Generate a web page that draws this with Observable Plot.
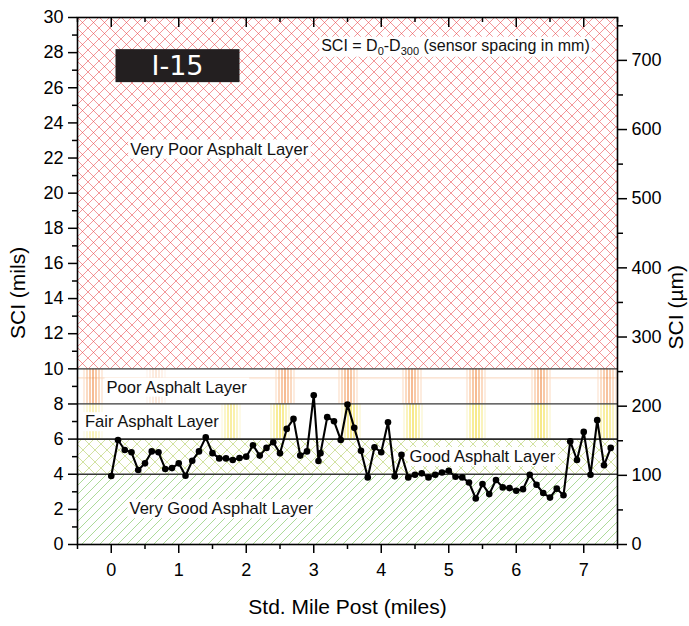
<!DOCTYPE html>
<html>
<head>
<meta charset="utf-8">
<script src="https://cdn.jsdelivr.net/npm/d3@7"></script>
<script src="https://cdn.jsdelivr.net/npm/@observablehq/plot@0.6"></script>
<style>
  body { margin: 0; background: #fff; }
  #chart { width: 689px; height: 626px; }
</style>
</head>
<body>
<div id="chart"></div>
<script>
// ---------------- data ----------------
const milePost = [0.0,0.1,0.2,0.3,0.4,0.5,0.6,0.7,0.8,0.9,
                  1.0,1.1,1.2,1.3,1.4,1.5,1.6,1.7,1.8,1.9,
                  2.0,2.1,2.2,2.3,2.4,2.5,2.6,2.7,2.8,2.9,
                  3.0,3.07,3.1,3.2,3.3,3.4,3.5,3.6,3.7,3.8,
                  3.9,4.0,4.1,4.2,4.3,4.4,4.5,4.6,4.7,4.8,
                  4.9,5.0,5.1,5.2,5.3,5.4,5.5,5.6,5.7,5.8,
                  5.9,6.0,6.1,6.2,6.3,6.4,6.5,6.6,6.7,6.8,
                  6.9,7.0,7.1,7.2,7.3,7.4];
const sciMils = [3.9,5.95,5.38,5.25,4.24,4.62,5.30,5.25,4.30,4.35,
                 4.62,3.91,4.77,5.30,6.10,5.20,4.90,4.90,4.81,4.92,
                 5.0,5.65,5.06,5.50,5.82,5.19,6.58,7.15,5.06,5.30,
                 8.5,4.75,5.2,7.25,7.02,5.95,7.97,6.64,5.34,3.82,
                 5.53,5.25,6.96,3.88,5.11,3.82,3.97,4.05,3.82,3.97,
                 4.10,4.20,3.86,3.82,3.53,2.62,3.44,2.87,3.67,3.25,
                 3.21,3.06,3.15,3.97,3.40,2.93,2.67,3.18,2.80,5.87,
                 4.81,6.41,3.97,7.08,4.51,5.50];

const bandNames  = ["Very Good Asphalt Layer","Good Asphalt Layer","Fair Asphalt Layer","Poor Asphalt Layer","Very Poor Asphalt Layer"];
const bandLower  = [0, 4, 6, 8, 10];
const bandUpper  = [4, 6, 8, 10, 30];
const bandLabelX = [0.27, 4.42, -0.39, -0.07, 0.28];   // miles
const bandLabelY = [2.03, 5.0, 6.98, 8.95, 22.5];      // mils
const boundaries = [4, 8, 10];
const thickBoundary = [6];

const xTicks  = [0,1,2,3,4,5,6,7];
const xMinor  = [-0.5,0.5,1.5,2.5,3.5,4.5,5.5,6.5,7.5];
const yTicks  = [0,2,4,6,8,10,12,14,16,18,20,22,24,26,28,30];
const yMinor  = [1,3,5,7,9,11,13,15,17,19,21,23,25,27,29];
const umTicks = [0,100,200,300,400,500,600,700];
const umMinor = [50,150,250,350,450,550,650,750];
const MICRONS_PER_MIL = 25.4;

const routeName = "I-15";
const sciNote = "SCI = D0-D300 (sensor spacing in mm)";
const noteX = 3.11, noteY = 28.4;

// ---------------- layout / style ----------------
const W = 689, H = 626;
const mTop = 17, mRight = 72, mBottom = 82, mLeft = 77;
const frameH = H - mTop - mBottom;

const patternOf = {
  "Very Good Asphalt Layer": "hVeryGood",
  "Good Asphalt Layer": "hGood",
  "Fair Asphalt Layer": "hFair",
  "Poor Asphalt Layer": "hPoor",
  "Very Poor Asphalt Layer": "hVeryPoor"
};

const series = milePost.map((m, i) => ({mile: m, sci: sciMils[i]}));
const bands = bandNames.map((name, i) => ({name, lo: bandLower[i], hi: bandUpper[i], lx: bandLabelX[i], ly: bandLabelY[i]}));
const toMils = v => v / MICRONS_PER_MIL;

const font = "Liberation Sans, Arial, Helvetica, sans-serif";

const chart = Plot.plot({
  width: W, height: H,
  marginTop: mTop, marginRight: mRight, marginBottom: mBottom, marginLeft: mLeft,
  x: {domain: [-0.5, 7.5], axis: null},
  y: {domain: [0, 30], axis: null},
  style: {fontFamily: font, fontSize: "16px", color: "black", background: "white", overflow: "visible"},
  marks: [
    ...bands.map(b => Plot.rectY([b], {y1: "lo", y2: "hi", fill: `url(#${patternOf[b.name]})`})),
    Plot.ruleY(boundaries, {stroke: "#383838", strokeWidth: 1.3}),
    Plot.ruleY(thickBoundary, {stroke: "#2a2a2a", strokeWidth: 1.9}),
    Plot.text(bands, {x: "lx", y: "ly", text: "name", textAnchor: "start", fontSize: 16.6, fill: "#111"}),
    Plot.text([sciNote], {x: [noteX], y: [noteY], text: d => d, textAnchor: "start", fontSize: 16, fill: "#111"}),
    Plot.text([routeName], {frameAnchor: "top-left", dx: 100, dy: 49, textAnchor: "middle", lineAnchor: "middle",
      fontSize: 27, fill: "white", fontFamily: "DejaVu Sans, sans-serif", letterSpacing: 1.5}),
    Plot.line(series, {x: "mile", y: "sci", stroke: "black", strokeWidth: 2.1}),
    Plot.dot(series, {x: "mile", y: "sci", r: 3.3, fill: "black", stroke: "none"}),
    // axes
    Plot.axisX(xTicks, {anchor: "bottom", tickSize: 9, tickPadding: 10, fontSize: 18, strokeWidth: 1.5, label: null}),
    Plot.axisX(xMinor, {anchor: "bottom", tickSize: 5, text: null, strokeWidth: 1.5, label: null}),
    Plot.tickX(xTicks, {x: d => d, insetBottom: frameH - 10, stroke: "black", strokeWidth: 1.5}),
    Plot.tickX(xMinor, {x: d => d, insetBottom: frameH - 5, stroke: "black", strokeWidth: 1.5}),
    Plot.axisY(yTicks, {anchor: "left", tickSize: 9, tickPadding: 5, fontSize: 18, strokeWidth: 1.5, label: null}),
    Plot.axisY(yMinor, {anchor: "left", tickSize: 5, text: null, strokeWidth: 1.5, label: null}),
    Plot.axisY(umTicks.map(toMils), {anchor: "right", tickSize: 9, tickPadding: 5, fontSize: 18, strokeWidth: 1.5,
      tickFormat: d => Math.round(d * MICRONS_PER_MIL), label: null}),
    Plot.axisY(umMinor.map(toMils), {anchor: "right", tickSize: 5, text: null, strokeWidth: 1.5, label: null}),
    Plot.frame({stroke: "black", strokeWidth: 1.6}),
    // axis titles
    Plot.text(["SCI (mils)"], {frameAnchor: "left", rotate: -90, dx: -59, dy: 58, fontSize: 21, lineAnchor: "middle"}),
    Plot.text(["SCI (\u00b5m)"], {frameAnchor: "right", rotate: -90, dx: 59, dy: -16, fontSize: 21, lineAnchor: "middle"}),
    Plot.text(["Std. Mile Post (miles)"], {frameAnchor: "bottom", dy: 63, fontSize: 21, lineAnchor: "middle"})
  ]
});

document.getElementById("chart").append(chart);

// ---------------- hatch patterns ----------------
const svg = d3.select(chart);
const defs = svg.insert("defs", ":first-child");
function pattern(id, w, h, x, y) {
  const p = defs.append("pattern").attr("id", id).attr("patternUnits", "userSpaceOnUse")
    .attr("width", w).attr("height", h).attr("x", x).attr("y", y);
  p.append("rect").attr("width", w).attr("height", h).attr("fill", "white");
  return p;
}
// very poor: red cross-hatch
{
  const s = 11;
  const p = pattern("hVeryPoor", s, s, mLeft, mTop);
  p.append("path").attr("d", `M0,0L${s},${s}M0,${s}L${s},0`)
    .attr("stroke", "#e8383c").attr("stroke-width", 0.9).attr("stroke-opacity", 0.58).attr("fill", "none");
}
// good: yellow-green cross-hatch
{
  const s = 12;
  const p = pattern("hGood", s, s, mLeft, 0);
  p.append("path").attr("d", `M0,0L${s},${s}M0,${s}L${s},0`)
    .attr("stroke", "#b4cf62").attr("stroke-width", 0.8).attr("stroke-opacity", 0.75).attr("fill", "none");
}
// very good: green diagonal lines
{
  const s = 9;
  const p = pattern("hVeryGood", s, s, mLeft, 0);
  p.append("path").attr("d", `M0,${s}L${s},0M-1,1L1,-1M${s-1},${s+1}L${s+1},${s-1}`)
    .attr("stroke", "#86c866").attr("stroke-width", 0.8).attr("stroke-opacity", 0.85).attr("fill", "none");
}
// poor / fair: clusters of vertical lines (moire of a fine grid)
const y10 = 368.5, y8 = 403.6, bandH = 35.1;
const poorClusters = [[84,1],[147,0.35],[276,1],[339,1],[403,1],[467,1],[532,1],[598,0.9]];
const fairClusters = [[84,0.6],[222,0.8],[271,1],[342,1],[404,1],[467,1],[532,1],[598,0.9]];
function clusterPattern(id, y, clusters, cols, horiz) {
  const p = pattern(id, W, bandH, 0, y);
  if (horiz) p.append("line").attr("x1", mLeft).attr("x2", W - mRight).attr("y1", horiz).attr("y2", horiz)
    .attr("stroke", "#f7cfb2").attr("stroke-width", 1);
  clusters.forEach(([cx, op]) => cols.forEach((c, i) =>
    p.append("line").attr("x1", cx + i * 3).attr("x2", cx + i * 3).attr("y1", 0).attr("y2", bandH)
      .attr("stroke", c).attr("stroke-width", 1).attr("stroke-opacity", op)));
}
clusterPattern("hPoor", y10, poorClusters, ["#fbd9c0","#f8b888","#f29450","#ee7a2a","#f29450","#f8b888","#fbd9c0"], 9.5);
clusterPattern("hFair", y8, fairClusters, ["#faf3c4","#f5e87a","#f2dc30","#f0d418","#f2dc30","#f5e87a","#faf3c4"], 0);

// ---------------- text decorations ----------------
const ns = "http://www.w3.org/2000/svg";
svg.selectAll("text").filter(function() { return this.textContent === sciNote; }).each(function() {
  const t = d3.select(this);
  t.text(null);
  t.append("tspan").text("SCI = D");
  t.append("tspan").attr("dy", 4).attr("font-size", 11).text("0");
  t.append("tspan").attr("dy", -4).text("-D");
  t.append("tspan").attr("dy", 4).attr("font-size", 11).text("300");
  t.append("tspan").attr("dy", -4).text(" (sensor spacing in mm)");
});
function boxBehind(el, fill, padX, padY, fixedW, fixedH) {
  const b = el.getBBox();
  const r = document.createElementNS(ns, "rect");
  let x = b.x - padX, y = b.y - padY, w = b.width + 2 * padX, h = b.height + 2 * padY;
  if (fixedW) { x = b.x + b.width / 2 - fixedW / 2; w = fixedW; }
  if (fixedH) { y = b.y + b.height / 2 - fixedH / 2; h = fixedH; }
  r.setAttribute("x", x); r.setAttribute("y", y);
  r.setAttribute("width", w); r.setAttribute("height", h);
  r.setAttribute("fill", fill);
  const tr = el.getAttribute("transform");
  if (tr) r.setAttribute("transform", tr);
  el.parentNode.insertBefore(r, el);
}
const whiteBoxed = new Set([...bandNames, "SCI = D0-D300 (sensor spacing in mm)"]);
svg.selectAll("text").filter(function() { return whiteBoxed.has(this.textContent); })
  .each(function() { boxBehind(this, "white", 2, 0); });
svg.selectAll("text").filter(function() { return this.textContent === routeName; })
  .each(function() { boxBehind(this, "#231f20", 0, 0, 124, 33); });
</script>
</body>
</html>
